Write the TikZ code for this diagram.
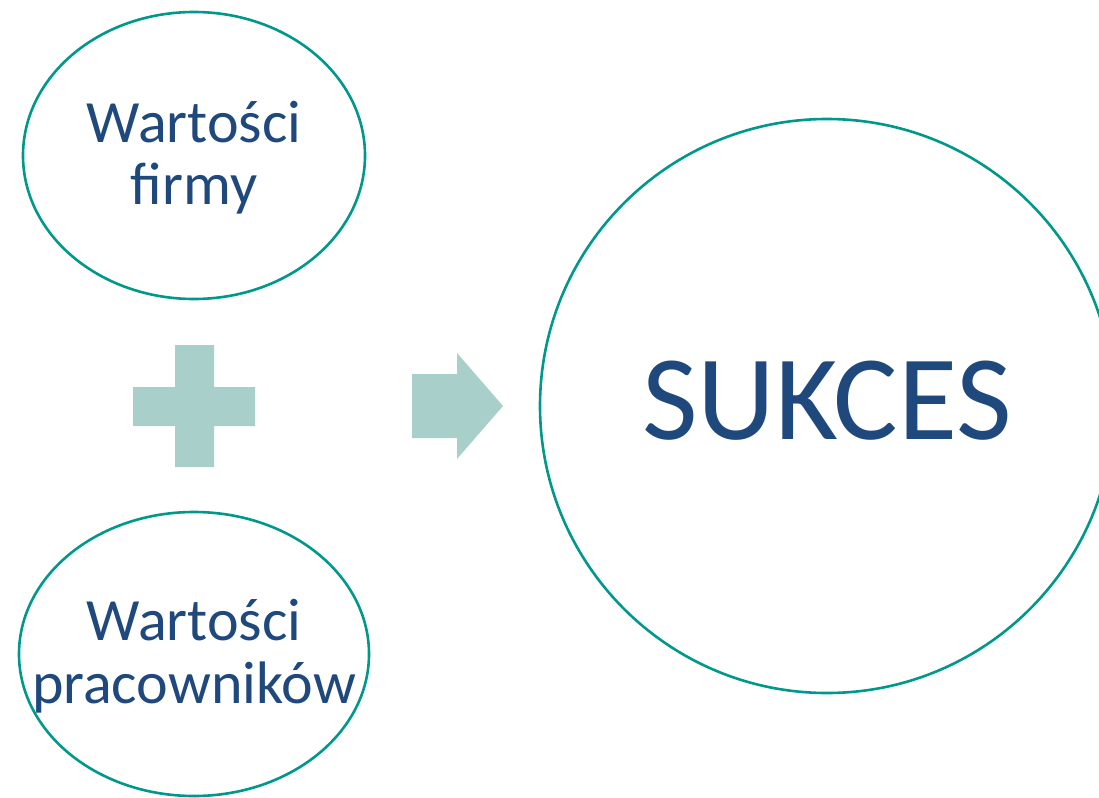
\documentclass[tikz,border=0pt]{standalone}
\usepackage{fontspec}
\setmainfont{Carlito}
\usepackage{tikz}
\usetikzlibrary{shapes.geometric,positioning}

\definecolor{rim}{HTML}{00988A}
\definecolor{ink}{HTML}{1F497D}
\definecolor{pale}{HTML}{A8CFCA}

\tikzset{
  bubble/.style={ellipse, draw=rim, line width=2.6pt, inner sep=0pt},
  word/.style={text=ink, anchor=base, inner sep=0pt, font=\fontsize{60}{62}\selectfont},
  big/.style={text=ink, anchor=base, inner sep=0pt, font=\fontsize{121}{124}\selectfont},
  sign/.style={fill=pale, draw=none}
}

\begin{document}
\begin{tikzpicture}[x=1pt, y=-1pt]
\useasboundingbox (0,0) rectangle (1099,797);
\clip (0,0) rectangle (1099,797);

\node [bubble, minimum width=342pt, minimum height=287pt] (firma) at (194,155.5) {};
\node [bubble, minimum width=350pt, minimum height=284pt] (ludzie) at (194,654) {};
\node [bubble, minimum width=574pt, minimum height=574pt] (sukces) at (827,406) {};

\node [word] (f1) at ([yshift=13.5pt]firma.center) {Wartości};
\node [word] (f2) at ([yshift=-48.5pt]firma.center) {firmy};
\node [word] (l1) at ([yshift=14pt]ludzie.center) {Wartości};
\node [word] (l2) at ([yshift=-49pt]ludzie.center) {pracowników};
\node [big] (s1) at ([yshift=-33pt]sukces.center) {SUKCES};

% plus
\path [sign] (133,387) -- (175,387) -- (175,345) -- (214,345) -- (214,387)
  -- (255,387) -- (255,426) -- (214,426) -- (214,467) -- (175,467)
  -- (175,426) -- (133,426) -- cycle;
% arrow
\path [sign] (412,374) -- (457,374) -- (457,353) -- (503,406) -- (457,459)
  -- (457,438) -- (412,438) -- cycle;
\end{tikzpicture}
\end{document}
